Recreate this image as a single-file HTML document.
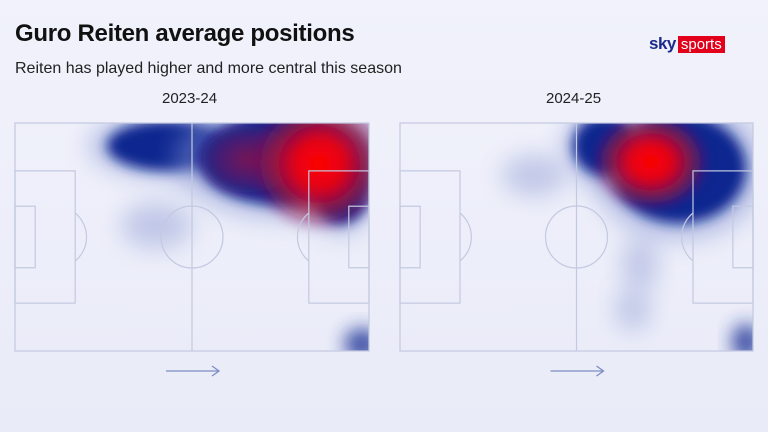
<!DOCTYPE html>
<html><head><meta charset="utf-8"><style>
body{margin:0;width:768px;height:432px;overflow:hidden;background:linear-gradient(180deg,#f1f2fb,#e9ebf8);font-family:"Liberation Sans",sans-serif;}
.t{position:absolute;left:15px;top:20px;font-size:24px;font-weight:bold;color:#111;letter-spacing:-0.3px}
.s{position:absolute;left:15px;top:60px;font-size:16px;color:#222}
.lab{position:absolute;top:90px;font-size:15px;color:#222}
</style></head><body>
<div class="t">Guro Reiten average positions</div>
<div class="s">Reiten has played higher and more central this season</div>
<div class="lab" style="left:162px">2023-24</div>
<div class="lab" style="left:546px">2024-25</div>
<div style="position:absolute;left:649px;top:35px;height:18px;display:flex;align-items:center">
<span style="color:#1a2a8a;font-weight:bold;font-size:17px;letter-spacing:-0.5px">sky</span><span style="background:#e3001b;color:#fff;font-size:15px;padding:0 3px;margin-left:2px;line-height:17px">sports</span></div>
<svg id="c" width="768" height="432" style="position:absolute;left:0;top:0">
<defs>
<filter id="b0" x="-50%" y="-50%" width="200%" height="200%"><feGaussianBlur stdDeviation="12"/></filter>
<filter id="b1" x="-50%" y="-50%" width="200%" height="200%"><feGaussianBlur stdDeviation="6"/></filter>
<filter id="b2" x="-50%" y="-50%" width="200%" height="200%"><feGaussianBlur stdDeviation="5"/></filter>
<filter id="b3" x="-50%" y="-50%" width="200%" height="200%"><feGaussianBlur stdDeviation="9"/></filter>
<radialGradient id="rg"><stop offset="0" stop-color="#ff0000" stop-opacity="1"/><stop offset="0.35" stop-color="#f00010" stop-opacity="0.95"/><stop offset="0.75" stop-color="#a0103a" stop-opacity="0.55"/><stop offset="1" stop-color="#6a1060" stop-opacity="0"/></radialGradient>
<radialGradient id="rg2"><stop offset="0" stop-color="#9a1040" stop-opacity="0.8"/><stop offset="0.6" stop-color="#701460" stop-opacity="0.5"/><stop offset="1" stop-color="#401870" stop-opacity="0"/></radialGradient>
<clipPath id="cp0"><rect x="15" y="123" width="354" height="228"/></clipPath>
<clipPath id="cp1"><rect x="400" y="123" width="353" height="228"/></clipPath>
</defs>
</svg>
<script>
// blobs: pitch-% centre x, y, radius x, radius y, layer (0 faint,1 blue,2 red,3 soft blue,4 dark red)
const season1X=[43,76,92,40,98,86,66];
const season1Y=[10,16,28,45,97,18,16];
const season1RX=[17,24,8,10,5,20,16];
const season1RY=[11,20,16,10,7,30,18];
const season1L=[1,1,1,0,3,2,4];
const season2X=[79,58,38,68,66,98,71];
const season2Y=[20,10,23,62,82,96,17];
const season2RX=[19,9,9,5,5,4,17];
const season2RY=[24,13,9,12,9,8,22];
const season2L=[1,1,0,0,0,3,2];
const pitches=[{x:15,y:123,w:354,h:228,X:season1X,Y:season1Y,RX:season1RX,RY:season1RY,L:season1L},
{x:400,y:123,w:353,h:228,X:season2X,Y:season2Y,RX:season2RX,RY:season2RY,L:season2L}];
const svg=document.getElementById('c');const NS='http://www.w3.org/2000/svg';
function mk(t,a,p){const e=document.createElementNS(NS,t);for(const k in a)e.setAttribute(k,a[k]);(p||svg).appendChild(e);return e;}
pitches.forEach((p,i)=>{
 const sx=v=>p.x+v/100*p.w, sy=v=>p.y+v/100*p.h;
 const g=mk('g',{'clip-path':'url(#cp'+i+')'});
 
 
 [0,3,1,4,2].forEach(L=>{p.X.forEach((x,j)=>{if(p.L[j]!==L)return;
  const cx=sx(x),cy=sy(p.Y[j]),rx=p.RX[j]/100*p.w,ry=p.RY[j]/100*p.h;
  if(L===1){const h=mk('ellipse',{cx:cx,cy:cy,rx:rx*1.3,ry:ry*1.3,fill:'#8090d0',opacity:0.5,filter:'url(#b0)'},g);
   
   }
  let a;
  if(L===0)a={cx,cy,rx,ry,fill:'#8a98d2',opacity:0.45,filter:'url(#b0)'};
  else if(L===3)a={cx,cy,rx,ry,fill:'#1a3296',opacity:0.85,filter:'url(#b3)'};
  else if(L===1)a={cx,cy,rx,ry,fill:'#0b2690',filter:'url(#b1)'};
  else if(L===4)a={cx,cy,rx,ry,fill:'url(#rg2)',filter:'url(#b2)'};
  else a={cx,cy,rx,ry,fill:'url(#rg)',filter:'url(#b2)'};
  const e=mk('ellipse',a,g);
  
  });});
 const lg=mk('g',{fill:'none',stroke:'#c3c9e0','stroke-width':1.2});
 
 
 const W=p.w,H=p.h,X=p.x,Y=p.y,pb=W*0.17,sb=W*0.057,ph=H*0.58,sh=H*0.27,cy=Y+H/2;
 mk('rect',{x:X,y:Y,width:W,height:H},lg);
 mk('line',{x1:X+W/2,y1:Y,x2:X+W/2,y2:Y+H},lg);
 mk('circle',{cx:X+W/2,cy:cy,r:31},lg);
 mk('rect',{x:X,y:cy-ph/2,width:pb,height:ph},lg);
 mk('rect',{x:X,y:cy-sh/2,width:sb,height:sh},lg);
 mk('rect',{x:X+W-pb,y:cy-ph/2,width:pb,height:ph},lg);
 mk('rect',{x:X+W-sb,y:cy-sh/2,width:sb,height:sh},lg);
 mk('path',{d:`M${X+pb} ${cy-24} A31 31 0 0 1 ${X+pb} ${cy+24}`},lg);
 mk('path',{d:`M${X+W-pb} ${cy-24} A31 31 0 0 0 ${X+W-pb} ${cy+24}`},lg);
 const ax=X+W/2-26;
 const a=mk('path',{d:`M${ax} 371 H${ax+53} M${ax+46} 366 L${ax+53} 371 L${ax+46} 376`,fill:'none',stroke:'#7d8cc4','stroke-width':1.3});
 
 
});
</script>
</body></html>
